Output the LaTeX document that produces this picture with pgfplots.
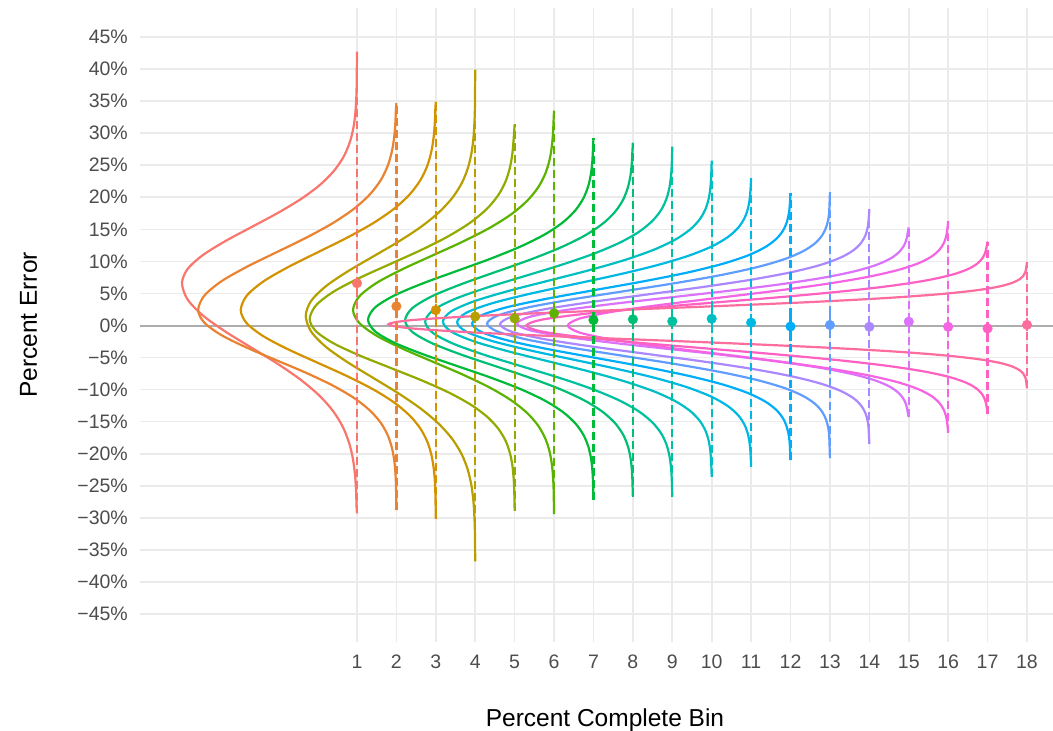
\documentclass[border=0pt]{standalone}
\usepackage{fontspec}
\setmainfont{Liberation Sans}
\usepackage{pgfplots}
\pgfplotsset{compat=1.18}
\definecolor{c1}{HTML}{F8766D}
\definecolor{c2}{HTML}{EA8331}
\definecolor{c3}{HTML}{D39200}
\definecolor{c4}{HTML}{B79F00}
\definecolor{c5}{HTML}{93AA00}
\definecolor{c6}{HTML}{5BB300}
\definecolor{c7}{HTML}{00BA38}
\definecolor{c8}{HTML}{00BF74}
\definecolor{c9}{HTML}{00C19F}
\definecolor{c10}{HTML}{00BFC4}
\definecolor{c11}{HTML}{00B9E3}
\definecolor{c12}{HTML}{00ADFA}
\definecolor{c13}{HTML}{619CFF}
\definecolor{c14}{HTML}{AB88FF}
\definecolor{c15}{HTML}{DB72FB}
\definecolor{c16}{HTML}{F564E3}
\definecolor{c17}{HTML}{FF61C3}
\definecolor{c18}{HTML}{FD6C9E}
\definecolor{gridc}{HTML}{EBEBEB}
\definecolor{zeroc}{HTML}{ADADAD}
\definecolor{tickc}{HTML}{4D4D4D}
\pgfplotsset{
  curve/.style={smooth, line width=2.2bp},
  rng/.style={line width=2.2bp, dash pattern=on 8bp off 4bp},
  pt/.style={only marks, mark=*, mark size=4.8bp,
    error bars/y dir=both, error bars/y explicit, error bars/error mark=none,
    error bars/error bar style={line width=2.2bp, solid}},
}
\begin{document}
\begin{tikzpicture}
\path[use as bounding box] (0,0) rectangle (1053bp,731bp);
\begin{axis}[
  at={(140bp,89bp)}, anchor=south west,
  scale only axis, width=913bp, height=634bp,
  xmin=-4.506, xmax=18.66, ymin=-49.36, ymax=49.52,
  axis line style={draw=none},
  major tick length=0pt,
  xtick={1,2,3,4,5,6,7,8,9,10,11,12,13,14,15,16,17,18},
  xticklabels={1,2,3,4,5,6,7,8,9,10,11,12,13,14,15,16,17,18},
  ytick={-45,-40,-35,-30,-25,-20,-15,-10,-5,0,5,10,15,20,25,30,35,40,45},
  yticklabels={−45\%,−40\%,−35\%,−30\%,−25\%,−20\%,−15\%,−10\%,−5\%,0\%,5\%,10\%,15\%,20\%,25\%,30\%,35\%,40\%,45\%},
  xmajorgrids, ymajorgrids,
  major grid style={draw=gridc, line width=1.6bp},
  tick label style={font=\fontsize{19.5bp}{23bp}\selectfont, text=tickc},
  xticklabel style={anchor=north, inner sep=0pt, yshift=-13bp},
  yticklabel style={anchor=east, inner sep=0pt, xshift=-12bp},
  xlabel={Percent Complete Bin},
  ylabel={Percent Error},
  label style={font=\fontsize{24.5bp}{29bp}\selectfont, text=black},
  xlabel style={at={(axis description cs:0.5093,-0.13407)}, anchor=base},
  ylabel style={at={(axis description cs:-0.11282,0.5)}, anchor=base},
]
\addplot[zeroc, line width=2bp] coordinates {(-4.506,0) (18.66,0)};
% density curves (bin position minus scaled density)
\addplot[curve, c1] coordinates {(1,42.7) (0.990,37.05) (0.977,34.875) (0.951,32.7) (0.899,30.525) (0.805,28.35) (0.647,26.175) (0.399,24.0) (0.040,21.825) (-0.442,19.65) (-1.033,17.475) (-1.693,15.3) (-2.351,13.125) (-2.918,10.95) (-3.303,8.775) (-3.44,6.6) (-3.303,4.1) (-2.918,1.6) (-2.351,-0.9) (-1.693,-3.4) (-1.033,-5.9) (-0.442,-8.4) (0.040,-10.9) (0.399,-13.4) (0.647,-15.9) (0.805,-18.4) (0.899,-20.9) (0.951,-23.4) (0.977,-25.9) (0.990,-28.4) (1,-29.3)};
\addplot[curve, c2] coordinates {(2,34.7) (1.989,33.9) (1.974,31.65) (1.944,29.4) (1.885,27.15) (1.779,24.9) (1.600,22.65) (1.319,20.4) (0.912,18.15) (0.367,15.9) (-0.303,13.65) (-1.051,11.4) (-1.797,9.15) (-2.439,6.9) (-2.875,4.65) (-3.03,2.4) (-2.875,0.45) (-2.439,-1.5) (-1.797,-3.45) (-1.051,-5.4) (-0.303,-7.35) (0.367,-9.3) (0.912,-11.25) (1.319,-13.2) (1.600,-15.15) (1.779,-17.1) (1.885,-19.05) (1.944,-21.0) (1.974,-22.95) (1.989,-24.9) (2,-28.8)};
\addplot[curve, c3] coordinates {(3,34.9) (2.989,33.9) (2.975,31.65) (2.945,29.4) (2.887,27.15) (2.783,24.9) (2.606,22.65) (2.330,20.4) (1.929,18.15) (1.393,15.9) (0.734,13.65) (-0.002,11.4) (-0.736,9.15) (-1.368,6.9) (-1.798,4.65) (-1.95,2.4) (-1.798,0.35) (-1.368,-1.7) (-0.736,-3.75) (-0.002,-5.8) (0.734,-7.85) (1.393,-9.9) (1.929,-11.95) (2.330,-14.0) (2.606,-16.05) (2.783,-18.1) (2.887,-20.15) (2.945,-22.2) (2.975,-24.25) (2.989,-26.3) (3,-30.1)};
\addplot[curve, c4] coordinates {(4,39.9) (3.991,33.7) (3.978,31.4) (3.952,29.1) (3.902,26.8) (3.811,24.5) (3.658,22.2) (3.418,19.9) (3.070,17.6) (2.604,15.3) (2.031,13.0) (1.392,10.7) (0.754,8.4) (0.205,6.1) (-0.168,3.8) (-0.3,1.5) (-0.168,-0.9) (0.205,-3.3) (0.754,-5.7) (1.392,-8.1) (2.031,-10.5) (2.604,-12.9) (3.070,-15.3) (3.418,-17.7) (3.658,-20.1) (3.811,-22.5) (3.902,-24.9) (3.952,-27.3) (3.978,-29.7) (3.991,-32.1) (4,-36.8)};
\addplot[curve, c5] coordinates {(5,31.4) (4.973,28.95) (4.942,26.8) (4.881,24.65) (4.772,22.5) (4.586,20.35) (4.296,18.2) (3.875,16.05) (3.312,13.9) (2.619,11.75) (1.846,9.6) (1.075,7.45) (0.411,5.3) (-0.040,3.15) (-0.2,1.0) (-0.040,-0.9) (0.411,-2.8) (1.075,-4.7) (1.846,-6.6) (2.619,-8.5) (3.312,-10.4) (3.875,-12.3) (4.296,-14.2) (4.586,-16.1) (4.772,-18.0) (4.881,-19.9) (4.942,-21.8) (4.973,-23.7) (4.989,-25.6) (5,-28.9)};
\addplot[curve, c6] coordinates {(6,33.5) (5.989,32.15) (5.974,30.025) (5.943,27.9) (5.884,25.775) (5.776,23.65) (5.594,21.525) (5.310,19.4) (4.897,17.275) (4.344,15.15) (3.665,13.025) (2.907,10.9) (2.151,8.775) (1.499,6.65) (1.057,4.525) (0.9,2.4) (1.057,0.4) (1.499,-1.6) (2.151,-3.6) (2.907,-5.6) (3.665,-7.6) (4.344,-9.6) (4.897,-11.6) (5.310,-13.6) (5.594,-15.6) (5.776,-17.6) (5.884,-19.6) (5.943,-21.6) (5.974,-23.6) (5.989,-25.6) (6,-29.4)};
\addplot[curve, c7] coordinates {(7,29.2) (6.987,27.5) (6.971,25.6) (6.937,23.7) (6.870,21.8) (6.749,19.9) (6.545,18.0) (6.226,16.1) (5.763,14.2) (5.143,12.3) (4.381,10.4) (3.531,8.5) (2.683,6.6) (1.952,4.7) (1.456,2.8) (1.28,0.9) (1.456,-0.9) (1.952,-2.7) (2.683,-4.5) (3.531,-6.3) (4.381,-8.1) (5.143,-9.9) (5.763,-11.7) (6.226,-13.5) (6.545,-15.3) (6.749,-17.1) (6.870,-18.9) (6.937,-20.7) (6.971,-22.5) (6.987,-24.3) (7,-27.2)};
\addplot[curve, c8] coordinates {(8,28.5) (7.987,27.05) (7.971,25.175) (7.936,23.3) (7.868,21.425) (7.746,19.55) (7.540,17.675) (7.218,15.8) (6.750,13.925) (6.123,12.05) (5.354,10.175) (4.494,8.3) (3.637,6.425) (2.899,4.55) (2.398,2.675) (2.22,0.8) (2.398,-0.975) (2.899,-2.75) (3.637,-4.525) (4.494,-6.3) (5.354,-8.075) (6.123,-9.85) (6.750,-11.625) (7.218,-13.4) (7.540,-15.175) (7.746,-16.95) (7.868,-18.725) (7.936,-20.5) (7.971,-22.275) (7.987,-24.05) (8,-26.7)};
\addplot[curve, c9] coordinates {(9,27.9) (8.986,25.1) (8.968,23.35) (8.930,21.6) (8.857,19.85) (8.725,18.1) (8.501,16.35) (8.152,14.6) (7.644,12.85) (6.964,11.1) (6.130,9.35) (5.197,7.6) (4.267,5.85) (3.467,4.1) (2.923,2.35) (2.73,0.6) (2.923,-1.15) (3.467,-2.9) (4.267,-4.65) (5.197,-6.4) (6.130,-8.15) (6.964,-9.9) (7.644,-11.65) (8.152,-13.4) (8.501,-15.15) (8.725,-16.9) (8.857,-18.65) (8.930,-20.4) (8.968,-22.15) (8.986,-23.9) (9,-26.7)};
\addplot[curve, c10] coordinates {(10,25.7) (9.985,23.0) (9.965,21.4) (9.924,19.8) (9.845,18.2) (9.701,16.6) (9.457,15.0) (9.077,13.4) (8.525,11.8) (7.786,10.2) (6.878,8.6) (5.864,7.0) (4.852,5.4) (3.981,3.8) (3.390,2.2) (3.18,0.6) (3.390,-0.95) (3.981,-2.5) (4.852,-4.05) (5.864,-5.6) (6.878,-7.15) (7.786,-8.7) (8.525,-10.25) (9.077,-11.8) (9.457,-13.35) (9.701,-14.9) (9.845,-16.45) (9.924,-18.0) (9.965,-19.55) (9.985,-21.1) (10,-23.6)};
\addplot[curve, c11] coordinates {(11,23.0) (10.984,21.15) (10.962,19.675) (10.917,18.2) (10.830,16.725) (10.672,15.25) (10.406,13.775) (9.991,12.3) (9.386,10.825) (8.578,9.35) (7.585,7.875) (6.475,6.4) (5.369,4.925) (4.417,3.45) (3.770,1.975) (3.54,0.5) (3.770,-0.95) (4.417,-2.4) (5.369,-3.85) (6.475,-5.3) (7.585,-6.75) (8.578,-8.2) (9.386,-9.65) (9.991,-11.1) (10.406,-12.55) (10.672,-14.0) (10.830,-15.45) (10.917,-16.9) (10.962,-18.35) (10.984,-19.8) (11,-22.0)};
\addplot[curve, c12] coordinates {(12,20.6) (11.982,18.85) (11.959,17.525) (11.910,16.2) (11.816,14.875) (11.645,13.55) (11.357,12.225) (10.907,10.9) (10.252,9.575) (9.376,8.25) (8.301,6.925) (7.099,5.6) (5.901,4.275) (4.869,2.95) (4.169,1.625) (3.92,0.3) (4.169,-1.05) (4.869,-2.4) (5.901,-3.75) (7.099,-5.1) (8.301,-6.45) (9.376,-7.8) (10.252,-9.15) (10.907,-10.5) (11.357,-11.85) (11.645,-13.2) (11.816,-14.55) (11.910,-15.9) (11.959,-17.25) (11.982,-18.6) (12,-21.0)};
\addplot[curve, c13] coordinates {(13,20.8) (12.981,17.8) (12.956,16.55) (12.903,15.3) (12.802,14.05) (12.618,12.8) (12.307,11.55) (11.823,10.3) (11.118,9.05) (10.175,7.8) (9.017,6.55) (7.723,5.3) (6.433,4.05) (5.322,2.8) (4.568,1.55) (4.30,0.3) (4.568,-0.95) (5.322,-2.2) (6.433,-3.45) (7.723,-4.7) (9.017,-5.95) (10.175,-7.2) (11.118,-8.45) (11.823,-9.7) (12.307,-10.95) (12.618,-12.2) (12.802,-13.45) (12.903,-14.7) (12.956,-15.95) (12.981,-17.2) (13,-20.7)};
\addplot[curve, c14] coordinates {(14,18.1) (13.979,16.3) (13.952,15.15) (13.896,14.0) (13.786,12.85) (13.589,11.7) (13.254,10.55) (12.732,9.4) (11.973,8.25) (10.958,7.1) (9.710,5.95) (8.317,4.8) (6.928,3.65) (5.731,2.5) (4.919,1.35) (4.63,0.2) (4.919,-0.95) (5.731,-2.1) (6.928,-3.25) (8.317,-4.4) (9.710,-5.55) (10.958,-6.7) (11.973,-7.85) (12.732,-9.0) (13.254,-10.15) (13.589,-11.3) (13.786,-12.45) (13.896,-13.6) (13.952,-14.75) (13.979,-15.9) (14,-18.5)};
\addplot[curve, c15] coordinates {(15,15.3) (14.978,14.65) (14.949,13.625) (14.890,12.6) (14.773,11.575) (14.564,10.55) (14.209,9.525) (13.655,8.5) (12.850,7.475) (11.772,6.45) (10.449,5.425) (8.971,4.4) (7.497,3.375) (6.228,2.35) (5.366,1.325) (5.06,0.3) (5.366,-0.7) (6.228,-1.7) (7.497,-2.7) (8.971,-3.7) (10.449,-4.7) (11.772,-5.7) (12.850,-6.7) (13.655,-7.7) (14.209,-8.7) (14.564,-9.7) (14.773,-10.7) (14.890,-11.7) (14.949,-12.7) (14.978,-13.7) (15,-14.3)};
\addplot[curve, c16] coordinates {(16,16.3) (15.979,15.05) (15.951,13.975) (15.893,12.9) (15.780,11.825) (15.576,10.75) (15.232,9.675) (14.694,8.6) (13.913,7.525) (12.867,6.45) (11.582,5.375) (10.147,4.3) (8.716,3.225) (7.484,2.15) (6.647,1.075) (6.35,0) (6.647,-1.1) (7.484,-2.2) (8.716,-3.3) (10.147,-4.4) (11.582,-5.5) (12.867,-6.6) (13.913,-7.7) (14.694,-8.8) (15.232,-9.9) (15.576,-11.0) (15.780,-12.1) (15.893,-13.2) (15.951,-14.3) (15.979,-15.4) (16,-16.7)};
\addplot[curve, c17] coordinates {(17,13.1) (16.974,12.25) (16.940,11.375) (16.870,10.5) (16.733,9.625) (16.486,8.75) (16.069,7.875) (15.417,7.0) (14.469,6.125) (13.201,5.25) (11.644,4.375) (9.904,3.5) (8.169,2.625) (6.675,1.75) (5.660,0.875) (5.3,0) (5.660,-0.9) (6.675,-1.8) (8.169,-2.7) (9.904,-3.6) (11.644,-4.5) (13.201,-5.4) (14.469,-6.3) (15.417,-7.2) (16.069,-8.1) (16.486,-9.0) (16.733,-9.9) (16.870,-10.8) (16.940,-11.7) (16.974,-12.6) (17,-13.8)};
\addplot[curve, c18] coordinates {(18,9.9) (17.964,8.425) (17.917,7.838) (17.820,7.25) (17.631,6.663) (17.289,6.075) (16.710,5.488) (15.808,4.9) (14.496,4.313) (12.740,3.725) (10.584,3.138) (8.175,2.55) (5.772,1.963) (3.703,1.375) (2.299,0.788) (1.8,0.2) (2.299,-0.4) (3.703,-1.0) (5.772,-1.6) (8.175,-2.2) (10.584,-2.8) (12.740,-3.4) (14.496,-4.0) (15.808,-4.6) (16.710,-5.2) (17.289,-5.8) (17.631,-6.4) (17.820,-7.0) (17.917,-7.6) (17.964,-8.2) (18,-9.8)};
% dashed ranges
\addplot[rng, c1] coordinates {(1,-29.3) (1,42.7)};
\addplot[rng, c2] coordinates {(2,-28.8) (2,34.7)};
\addplot[rng, c3] coordinates {(3,-30.1) (3,34.9)};
\addplot[rng, c4] coordinates {(4,-36.8) (4,39.9)};
\addplot[rng, c5] coordinates {(5,-28.9) (5,31.4)};
\addplot[rng, c6] coordinates {(6,-29.4) (6,33.5)};
\addplot[rng, c7] coordinates {(7,-27.2) (7,29.2)};
\addplot[rng, c8] coordinates {(8,-26.7) (8,28.5)};
\addplot[rng, c9] coordinates {(9,-26.7) (9,27.9)};
\addplot[rng, c10] coordinates {(10,-23.6) (10,25.7)};
\addplot[rng, c11] coordinates {(11,-22.0) (11,23.0)};
\addplot[rng, c12] coordinates {(12,-21.0) (12,20.6)};
\addplot[rng, c13] coordinates {(13,-20.7) (13,20.8)};
\addplot[rng, c14] coordinates {(14,-18.5) (14,18.1)};
\addplot[rng, c15] coordinates {(15,-14.3) (15,15.3)};
\addplot[rng, c16] coordinates {(16,-16.7) (16,16.3)};
\addplot[rng, c17] coordinates {(17,-13.8) (17,13.1)};
\addplot[rng, c18] coordinates {(18,-9.8) (18,9.9)};
% mean points
\addplot[pt, c1] coordinates {(1,6.6) +- (0,1.0)};
\addplot[pt, c2] coordinates {(2,3.0) +- (0,1.0)};
\addplot[pt, c3] coordinates {(3,2.4) +- (0,1.0)};
\addplot[pt, c4] coordinates {(4,1.4) +- (0,1.0)};
\addplot[pt, c5] coordinates {(5,1.1) +- (0,1.0)};
\addplot[pt, c6] coordinates {(6,1.9) +- (0,1.0)};
\addplot[pt, c7] coordinates {(7,0.86) +- (0,1.0)};
\addplot[pt, c8] coordinates {(8,0.97) +- (0,1.0)};
\addplot[pt, c9] coordinates {(9,0.65) +- (0,1.0)};
\addplot[pt, c10] coordinates {(10,1.05) +- (0,1.7)};
\addplot[pt, c11] coordinates {(11,0.45) +- (0,1.4)};
\addplot[pt, c12] coordinates {(12,-0.15) +- (0,2.2)};
\addplot[pt, c13] coordinates {(13,0.08) +- (0,1.9)};
\addplot[pt, c14] coordinates {(14,-0.2) +- (0,1.0)};
\addplot[pt, c15] coordinates {(15,0.6) +- (0,1.3)};
\addplot[pt, c16] coordinates {(16,-0.2) +- (0,1.0)};
\addplot[pt, c17] coordinates {(17,-0.45) +- (0,1.0)};
\addplot[pt, c18] coordinates {(18,0.1) +- (0,1.0)};
\end{axis}
\end{tikzpicture}
\end{document}
